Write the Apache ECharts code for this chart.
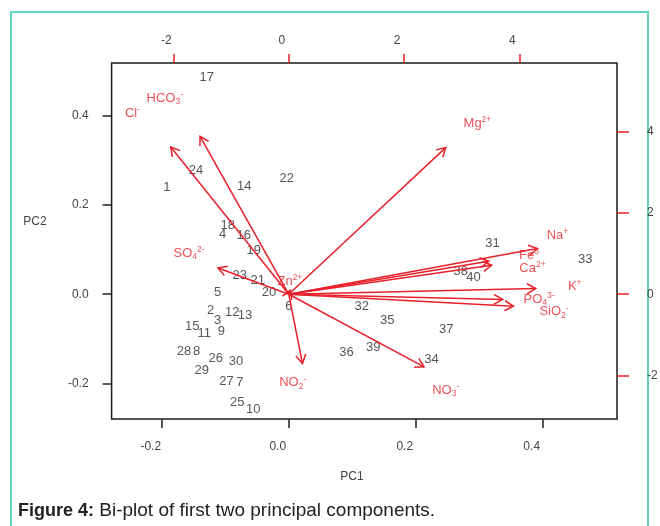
<!DOCTYPE html>
<html><head><meta charset="utf-8">
<script src="https://cdn.jsdelivr.net/npm/echarts@6/dist/echarts.min.js"></script>
<style>html,body{margin:0;padding:0;background:#fff}#c{width:660px;height:526px}</style>
</head><body><div id="c"></div>
<script>
// ---- sample scores (primary axes: PC1, PC2) ----
const sampleIds = ['1','2','3','4','5','6','7','8','9','10','11','12','13','14','15','16','17','18','19','20',
  '21','22','23','24','25','26','27','28','29','30','31','32','33','34','35','36','37','38','39','40'];
const samplePC1 = [-0.192,-0.123,-0.112,-0.104,-0.112,0.000,-0.077,-0.145,-0.106,-0.056,
  -0.133,-0.089,-0.069,-0.070,-0.152,-0.071,-0.129,-0.096,-0.055,-0.031,
  -0.049,-0.003,-0.077,-0.146,-0.081,-0.115,-0.098,-0.165,-0.137,-0.083,
  0.321,0.115,0.467,0.225,0.155,0.091,0.248,0.271,0.133,0.291];
const samplePC2 = [0.239,-0.036,-0.058,0.134,0.005,-0.028,-0.198,-0.129,-0.084,-0.257,
  -0.088,-0.040,-0.048,0.240,-0.073,0.132,0.485,0.154,0.098,0.005,
  0.031,0.260,0.042,0.277,-0.241,-0.144,-0.196,-0.129,-0.170,-0.151,
  0.113,-0.027,0.078,-0.146,-0.058,-0.131,-0.078,0.050,-0.119,0.037];

// ---- variable loadings (secondary axes): arrow tips and label anchors ----
const varNames = ['Cl-','HCO3-','Mg2+','SO42-','NO2-','NO3-','Na+','Fe3','Ca2+','K+','PO43-','SiO2-','Zn2+'];
const varRich  = ['{n|Cl}{sup|-}','{n|HCO}{sub|3}{sup|-}','{n|Mg}{sup|2+}','{n|SO}{sub|4}{sup|2-}',
  '{n|NO}{sub|2}{sup|-}','{n|NO}{sub|3}{sup|-}','{n|Na}{sup|+}','{n|Fe}{sup|3}','{n|Ca}{sup|2+}',
  '{n|K}{sup|+}','{n|PO}{sub|4}{sup|3-}','{n|SiO}{sub|2}{sup|-}','{n|Zn}{sup|2+}'];
const loadPC1 = [-2.046,-1.538,2.722,-1.226,0.238,2.346,4.312,3.468,3.520,4.283,3.706,3.896,0.03];
const loadPC2 = [3.624,3.887,3.609,0.647,-1.705,-1.788,1.124,0.812,0.713,0.140,-0.130,-0.295,0.10];
const labelPC1 = [-2.710,-2.150,3.272,-1.729,0.069,2.722,4.659,4.167,4.226,4.959,4.340,4.600,0.02];
const labelPC2 = [4.460,4.822,4.214,1.001,-2.182,-2.362,1.451,0.959,0.632,0.197,-0.130,-0.435,0.32];

// ---- axes ----
const primaryTicks = [-0.2, 0, 0.2, 0.4];
const secondaryTicks = [-2, 0, 2, 4];
const LIM = [-0.279, 0.517];
const RATIO = 11.01;

const RED = '#e8202a';
const LRED = '#e6262e';
const FONT = '"Liberation Sans", Arial, Helvetica, sans-serif';

const chart = echarts.init(document.getElementById('c'), null, {renderer: 'canvas'});

function primaryAxis(pos) {
  const horiz = pos === 'bottom';
  return {
    type: 'value', position: pos, min: LIM[0], max: LIM[1],
    axisLine: {show: false, onZero: false}, splitLine: {show: false},
    axisTick: {show: true, inside: false, length: 9, customValues: primaryTicks,
      lineStyle: {color: '#222', width: 1.5}},
    axisLabel: {customValues: primaryTicks, formatter: v => v.toFixed(1),
      margin: horiz ? 22 : 23, fontSize: 12, color: '#444', fontFamily: FONT,
      padding: horiz ? [0, 22, 0, 0] : [0, 0, 9, 0]}
  };
}
function secondaryAxis(pos) {
  const horiz = pos === 'top';
  return {
    type: 'value', position: pos, min: LIM[0] * RATIO, max: LIM[1] * RATIO,
    axisLine: {show: false, onZero: false}, splitLine: {show: false},
    axisTick: {show: true, inside: false, length: horiz ? 9 : 12, customValues: secondaryTicks,
      lineStyle: {color: RED, width: 1.5}},
    axisLabel: {customValues: secondaryTicks, formatter: v => String(v),
      margin: horiz ? 16 : 30, fontSize: 12, color: '#444', fontFamily: FONT,
      padding: horiz ? [0, 14, 0, 0] : 0}
  };
}

const samples = sampleIds.map((id, i) => ({name: id, value: [samplePC1[i], samplePC2[i]]}));
const tips = varNames.map((n, i) => ({name: n, value: [loadPC1[i], loadPC2[i]]}));
const varLabels = varNames.map((n, i) => ({name: n, value: [labelPC1[i], labelPC2[i]], rt: varRich[i]}));

const option = {
  animation: false,
  backgroundColor: '#fff',
  grid: {left: 111.6, right: 43, top: 63, bottom: 107, show: true,
    borderColor: '#1a1a1a', borderWidth: 1.5, backgroundColor: 'transparent', outerBoundsMode: 'none'},
  xAxis: [primaryAxis('bottom'), secondaryAxis('top')],
  yAxis: [primaryAxis('left'), secondaryAxis('right')],
  series: [
    {
      type: 'scatter', xAxisIndex: 0, yAxisIndex: 0, silent: true, z: 2,
      symbol: 'circle', symbolSize: 1, itemStyle: {color: 'rgba(0,0,0,0)'},
      data: samples, labelLayout: {hideOverlap: false},
      label: {show: true, position: 'inside', formatter: p => p.name,
        fontSize: 13, color: '#2b2b2b', fontFamily: FONT}
    },
    {
      type: 'scatter', xAxisIndex: 1, yAxisIndex: 1, silent: true, z: 2,
      symbol: 'circle', symbolSize: 1, itemStyle: {color: 'rgba(0,0,0,0)'},
      data: varLabels, labelLayout: {hideOverlap: false},
      label: {show: true, position: 'inside', formatter: p => p.data.rt,
        rich: {
          n: {fontSize: 13, color: LRED, fontFamily: FONT, lineHeight: 16},
          sup: {fontSize: 8.5, color: LRED, fontFamily: FONT, lineHeight: 9, verticalAlign: 'top'},
          sub: {fontSize: 8.5, color: LRED, fontFamily: FONT, lineHeight: 9, verticalAlign: 'bottom'}
        }}
    },
    {
      type: 'custom', xAxisIndex: 1, yAxisIndex: 1, silent: true, clip: false, z: 10, zlevel: 1,
      data: tips, encode: {x: 0, y: 1},
      renderItem: function (params, api) {
        const o = api.coord([0, 0]);
        const t = api.coord([api.value(0), api.value(1)]);
        const ang = Math.atan2(t[1] - o[1], t[0] - o[0]);
        const L = 10, A = Math.PI / 6;
        const h1 = [t[0] - L * Math.cos(ang - A), t[1] - L * Math.sin(ang - A)];
        const h2 = [t[0] - L * Math.cos(ang + A), t[1] - L * Math.sin(ang + A)];
        return {type: 'group', children: [
          {type: 'line', shape: {x1: o[0], y1: o[1], x2: t[0], y2: t[1]},
            style: {stroke: RED, lineWidth: 1.5}},
          {type: 'polyline', shape: {points: [h1, t, h2]},
            style: {stroke: RED, lineWidth: 1.5, fill: null}}
        ]};
      }
    }
  ],
  graphic: [
    {type: 'rect', silent: true, shape: {x: 11, y: 12, width: 637, height: 540},
      style: {fill: 'none', stroke: '#5ed3bd', lineWidth: 2}},
    {type: 'text', silent: true, x: 35, y: 222,
      style: {text: 'PC2', fontSize: 12, fill: '#444', fontFamily: FONT, align: 'center', verticalAlign: 'middle'}},
    {type: 'text', silent: true, x: 352, y: 477,
      style: {text: 'PC1', fontSize: 12, fill: '#444', fontFamily: FONT, align: 'center', verticalAlign: 'middle'}},
    {type: 'text', silent: true, x: 18, y: 511,
      style: {text: '{b|Figure 4:} Bi-plot of first two principal components.',
        fontSize: 19, fill: '#222', fontFamily: FONT, verticalAlign: 'middle',
        rich: {b: {fontWeight: 'bold', fontSize: 18, fill: '#222', fontFamily: FONT}}}}
  ]
};
chart.setOption(option);
</script>
</body></html>
